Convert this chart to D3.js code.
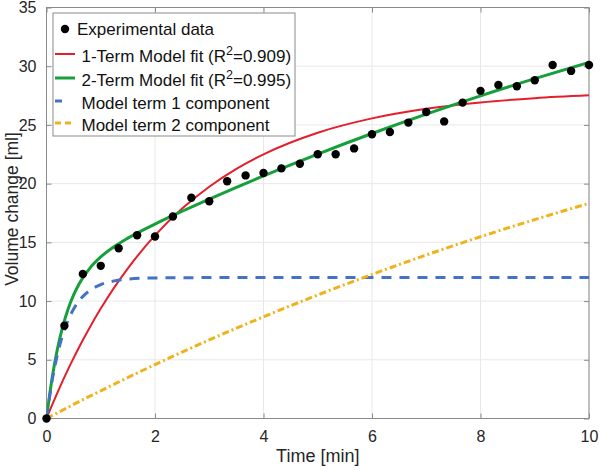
<!DOCTYPE html>
<html><head><meta charset="utf-8">
<script src="https://cdn.jsdelivr.net/npm/d3@7"></script>
<style>body{margin:0;background:#fff}svg{display:block}text{font-family:"Liberation Sans",Arial,sans-serif}</style>
</head><body>
<svg id="c" width="600" height="471"></svg>
<script>
const dataTime = [0,0.33,0.67,1,1.33,1.67,2,2.33,2.67,3,3.33,3.67,4,4.33,4.67,5,5.33,5.67,6,6.33,6.67,7,7.33,7.67,8,8.33,8.67,9,9.33,9.67,10];
const dataVolume = [0,7.9,12.3,13.0,14.5,15.6,15.5,17.2,18.8,18.5,20.2,20.7,20.9,21.3,21.7,22.5,22.5,23.0,24.2,24.4,25.2,26.1,25.3,26.9,27.9,28.4,28.3,28.8,30.1,29.6,30.1];
const curveTime = [0,0.1,0.2,0.3,0.4,0.5,0.6,0.8,1,1.25,1.5,2,2.5,3,3.5,4,5,6,7,8,9,10];
const fit1Term = [0,1.12,2.19,3.22,4.21,5.15,6.07,7.78,9.36,11.17,12.79,15.59,17.88,19.74,21.26,22.50,24.34,25.56,26.38,26.92,27.28,27.52];
const fit2Term = [0,3.35,5.89,7.84,9.35,10.52,11.46,12.81,13.76,14.65,15.36,16.56,17.65,18.69,19.69,20.66,22.52,24.27,25.92,27.48,28.94,30.32];
const term1Comp = [0,3.11,5.41,7.12,8.39,9.32,10.02,10.91,11.40,11.72,11.87,11.97,11.99,12,12,12,12,12,12,12,12,12];
const term2Comp = [0,0.24,0.48,0.72,0.96,1.20,1.44,1.90,2.36,2.93,3.49,4.59,5.66,6.69,7.69,8.66,10.52,12.27,13.92,15.48,16.94,18.32];
const xTicks = [0,2,4,6,8,10];
const yTicks = [0,5,10,15,20,25,30,35];
const legendLabels = ["Experimental data","1-Term Model fit (R","2-Term Model fit (R","Model term 1 component","Model term 2 component"];
const legendR2 = [null,"0.909","0.995",null,null];

const svg = d3.select("#c");
const L=46.5,R=589,T=7.5,B=418.5;
const x = d3.scaleLinear().domain([0,10]).range([L,R]);
const y = d3.scaleLinear().domain([0,35]).range([B,T]);
const axisCol="#8a8a8a", textCol="#262626";

// grid
const g = svg.append("g");
g.selectAll(".gx").data(xTicks).enter().append("line")
 .attr("x1",d=>x(d)).attr("x2",d=>x(d)).attr("y1",T).attr("y2",B)
 .attr("stroke","#e8e8e8").attr("stroke-width",1);
g.selectAll(".gy").data(yTicks).enter().append("line")
 .attr("y1",d=>y(d)).attr("y2",d=>y(d)).attr("x1",L).attr("x2",R)
 .attr("stroke","#e8e8e8").attr("stroke-width",1);

// axes with inward ticks
const ax = (gen,tr)=>{const a=svg.append("g").attr("transform",tr).call(gen);
  a.select(".domain").remove(); a.selectAll("line").attr("stroke",axisCol);
  a.selectAll("text").attr("fill",textCol).style("font-size","16px"); return a;};
ax(d3.axisBottom(x).tickValues(xTicks).tickSizeInner(-5).tickSizeOuter(0).tickPadding(12).tickFormat(d3.format("d")),`translate(0,${B})`);
ax(d3.axisTop(x).tickValues(xTicks).tickSizeInner(-5).tickSizeOuter(0).tickFormat(""),`translate(0,${T})`);
ax(d3.axisLeft(y).tickValues(yTicks).tickSizeInner(-5).tickSizeOuter(0).tickPadding(10).tickFormat(d3.format("d")),`translate(${L},0)`);
ax(d3.axisRight(y).tickValues(yTicks).tickSizeInner(-5).tickSizeOuter(0).tickFormat(""),`translate(${R},0)`);
svg.append("rect").attr("x",L).attr("y",T).attr("width",R-L).attr("height",B-T)
 .attr("fill","none").attr("stroke",axisCol).attr("stroke-width",1);

// clip
svg.append("clipPath").attr("id","clip").append("rect").attr("x",L).attr("y",T).attr("width",R-L).attr("height",B-T);
const plot = svg.append("g").attr("clip-path","url(#clip)");
const line = d3.line().x(d=>x(d[0])).y(d=>y(d[1])).curve(d3.curveMonotoneX);
const series = [
 {v:fit1Term,c:"#e41e2b",w:2,dash:null},
 {v:fit2Term,c:"#16a03c",w:3,dash:null},
 {v:term1Comp,c:"#4472c4",w:3,dash:"10,8"},
 {v:term2Comp,c:"#efb21b",w:3,dash:"7,3,2,3"}
];
series.forEach(s=>{
 plot.append("path").datum(curveTime.map((t,i)=>[t,s.v[i]]))
  .attr("d",line).attr("fill","none").attr("stroke",s.c).attr("stroke-width",s.w)
  .attr("stroke-dasharray",s.dash);
});
svg.append("g").selectAll("circle").data(dataTime.map((t,i)=>[t,dataVolume[i]])).enter()
 .append("circle").attr("cx",d=>x(d[0])).attr("cy",d=>y(d[1])).attr("r",4.2).attr("fill","#000");

// axis labels
svg.append("text").attr("x",(L+R)/2).attr("y",462).attr("text-anchor","middle")
 .attr("fill",textCol).style("font-size","18px").text("Time [min]");
svg.append("text").attr("transform",`translate(17.5,209) rotate(-90)`).attr("text-anchor","middle")
 .attr("fill",textCol).style("font-size","17.5px").text("Volume change [ml]");

// legend
const lg = svg.append("g");
lg.append("rect").attr("x",53).attr("y",13).attr("width",242).attr("height",123)
 .attr("fill","#fff").attr("stroke",axisCol).attr("stroke-width",1);
const rowY=[29,54,78,101,123];
lg.append("circle").attr("cx",65).attr("cy",rowY[0]).attr("r",4.2).attr("fill","#000");
lg.append("line").attr("x1",55).attr("x2",75).attr("y1",rowY[1]).attr("y2",rowY[1]).attr("stroke",series[0].c).attr("stroke-width",2);
lg.append("line").attr("x1",55).attr("x2",75).attr("y1",rowY[2]).attr("y2",rowY[2]).attr("stroke",series[1].c).attr("stroke-width",3);
lg.append("line").attr("x1",55).attr("x2",76).attr("y1",rowY[3]).attr("y2",rowY[3]).attr("stroke",series[2].c).attr("stroke-width",3).attr("stroke-dasharray","7,14");
lg.append("line").attr("x1",55).attr("x2",72).attr("y1",rowY[4]).attr("y2",rowY[4]).attr("stroke",series[3].c).attr("stroke-width",3).attr("stroke-dasharray","6,4");
legendLabels.forEach((lab,i)=>{
 const t = lg.append("text").attr("x",i===0?77:81.5).attr("y",i===0?rowY[i]+6:rowY[i]+8).attr("fill","#111").style("font-size","17px");
 t.append("tspan").text(lab);
 if(legendR2[i]){
  t.append("tspan").attr("dy",-7).style("font-size","12.5px").text("2");
  t.append("tspan").attr("dy",7).text("="+legendR2[i]+")");
 }
});
</script>
</body></html>
